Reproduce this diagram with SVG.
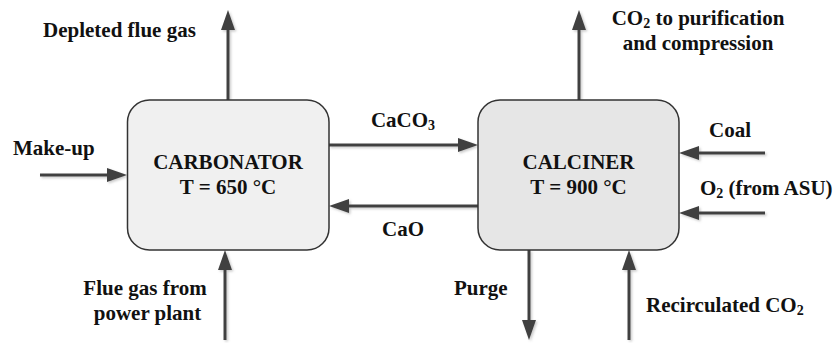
<svg xmlns="http://www.w3.org/2000/svg" width="836" height="343" viewBox="0 0 836 343">
<style>
text{font-family:'Liberation Serif',Tinos,'Times New Roman',Times,serif;font-weight:700;font-size:21px;fill:#111}
.m{text-anchor:middle}
.sub{font-size:14px}
.box{stroke:#333;stroke-width:1.5}
.flow{stroke:#404040;stroke-width:3;fill:none;marker-end:url(#ah)}
</style>
<defs>
<marker id="ah" viewBox="0 0 20 14" refX="0" refY="7" markerWidth="20" markerHeight="14" markerUnits="userSpaceOnUse" orient="auto">
<path d="M0,0 L20,7 L0,14 z" fill="#404040"/>
</marker>
<filter id="sh" x="-20%" y="-20%" width="140%" height="140%">
<feDropShadow dx="1.5" dy="1.5" stdDeviation="0.8" flood-color="#888" flood-opacity="0.45"/>
</filter>
</defs>
<g id="connectors" filter="url(#sh)">
<line class="flow" x1="228" y1="100" x2="228" y2="30"/>
<line class="flow" x1="579" y1="100" x2="579" y2="30"/>
<line class="flow" x1="329" y1="145" x2="458" y2="145"/>
<line class="flow" x1="478" y1="206" x2="349" y2="206"/>
<line class="flow" x1="40" y1="175" x2="107" y2="175"/>
<line class="flow" x1="225" y1="340" x2="225" y2="270"/>
<line class="flow" x1="529" y1="250" x2="529" y2="320"/>
<line class="flow" x1="629" y1="340" x2="629" y2="270"/>
<line class="flow" x1="765" y1="153" x2="699" y2="153"/>
<line class="flow" x1="765" y1="213" x2="699" y2="213"/>
</g>
<g id="carbonator">
<rect class="box" x="127.5" y="100" width="201.5" height="150" rx="22" fill="#f0f0f0"/>
<text class="m" x="228" y="169">CARBONATOR</text>
<text class="m" x="228" y="194">T = 650 °C</text>
</g>
<g id="calciner">
<rect class="box" x="478" y="100" width="201" height="150" rx="22" fill="#e6e6e6"/>
<text class="m" x="578.5" y="169">CALCINER</text>
<text class="m" x="578.5" y="194">T = 900 °C</text>
</g>
<g id="labels">
<text x="43" y="37">Depleted flue gas</text>
<text class="m" x="698" y="25">CO<tspan class="sub" dy="3">2</tspan><tspan dy="-3"> to purification</tspan></text>
<text class="m" x="698" y="50">and compression</text>
<text x="13" y="155">Make-up</text>
<text class="m" x="403" y="127">CaCO<tspan class="sub" dy="3">3</tspan></text>
<text class="m" x="403" y="236">CaO</text>
<text x="709" y="137">Coal</text>
<text x="700" y="195">O<tspan class="sub" dy="3">2</tspan><tspan dy="-3"> (from ASU)</tspan></text>
<text class="m" x="145" y="295">Flue gas from</text>
<text class="m" x="147.5" y="320">power plant</text>
<text x="454" y="295">Purge</text>
<text x="646" y="312">Recirculated CO<tspan class="sub" dy="3">2</tspan></text>
</g>
</svg>
